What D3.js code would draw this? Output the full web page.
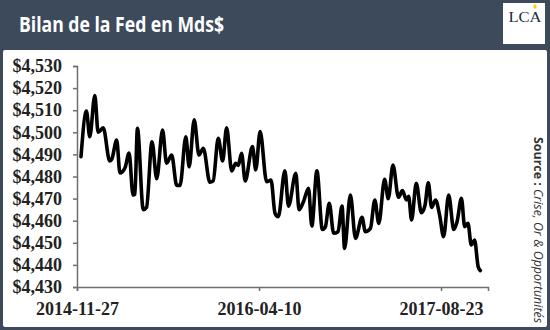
<!DOCTYPE html>
<html><head><meta charset="utf-8">
<script src="https://cdn.jsdelivr.net/npm/d3@7"></script>
<style>html,body{margin:0;padding:0;background:#3d4a5c;}svg{display:block;}</style>
</head><body>
<svg id="c" width="550" height="330"></svg>
<script>
const title = "Bilan de la Fed en Mds$";
const source = ["Source : ", "Crise, Or & Opportunités"];
const dates = ["2014-12-08","2014-12-23","2015-01-01","2015-01-15","2015-01-24","2015-02-07","2015-02-25","2015-03-03","2015-03-16","2015-03-25","2015-04-08","2015-04-19","2015-04-30","2015-05-05","2015-05-12","2015-05-28","2015-06-06","2015-06-21","2015-07-04","2015-07-20","2015-07-31","2015-08-14","2015-08-28","2015-09-06","2015-09-22","2015-10-01","2015-10-15","2015-10-28","2015-11-09","2015-11-27","2015-12-06","2015-12-20","2016-01-01","2016-01-12","2016-01-26","2016-02-06","2016-02-13","2016-02-22","2016-03-03","2016-03-23","2016-04-01","2016-04-13","2016-05-01","2016-05-13","2016-05-24","2016-06-02","2016-06-20","2016-06-30","2016-07-20","2016-07-29","2016-08-10","2016-08-24","2016-09-02","2016-09-16","2016-10-01","2016-10-09","2016-10-20","2016-11-01","2016-11-13","2016-11-24","2016-12-01","2016-12-17","2016-12-31","2017-01-18","2017-01-27","2017-02-10","2017-02-22","2017-03-05","2017-03-21","2017-03-31","2017-04-13","2017-04-28","2017-05-09","2017-05-20","2017-05-26","2017-06-03","2017-06-16","2017-06-30","2017-07-10","2017-07-19","2017-07-28","2017-08-08","2017-08-19","2017-08-30","2017-09-13","2017-09-27","2017-10-06","2017-10-18","2017-10-27","2017-11-05","2017-11-14","2017-11-23","2017-12-03","2017-12-09"];
const values = [4489,4509.6,4498,4516.6,4500,4502,4487,4488,4496.5,4481.6,4484,4490.6,4471.6,4472,4501.8,4465,4466,4495.7,4479,4501,4486,4489.7,4476,4476,4498,4484.4,4505.6,4489.7,4492.8,4477.4,4478,4497.3,4487,4502,4482.5,4486,4485,4490.5,4478,4493.5,4483,4500.3,4477.6,4478.4,4463.3,4461.8,4482.6,4466.6,4481.4,4465,4468.6,4474.7,4457.6,4482.6,4456,4457,4467.9,4454.3,4455,4466.6,4447.5,4471.6,4452,4461.5,4455,4456.5,4469.4,4458.8,4478.7,4470,4485.2,4470.6,4473.6,4469.4,4471,4460.3,4476.9,4463.6,4467,4477.2,4466,4469.4,4462.6,4452.8,4471.6,4456,4459.5,4470.1,4457.3,4458.8,4449,4451.3,4439.2,4437.4];
const xTicks = ["2014-11-27","2016-04-10","2017-08-23"];
const yTicks = [4430,4440,4450,4460,4470,4480,4490,4500,4510,4520,4530];
const xDomain = ["2014-11-27","2017-12-30"];

const parse = d3.timeParse("%Y-%m-%d");
const data = dates.map((d,i)=>({date:parse(d), v:values[i]}));
const svg = d3.select("#c");

// background & panel
svg.append("rect").attr("width",550).attr("height",330).attr("fill","#3d4a5c");
svg.append("rect").attr("x",3).attr("y",50).attr("width",544).attr("height",277).attr("rx",2).attr("fill","#ffffff");

// title
svg.append("text").attr("x",19).attr("y",32).attr("fill","#ffffff")
  .attr("font-family","'Open Sans', sans-serif").attr("font-weight",700).attr("font-size",22)
  .attr("textLength",205).attr("lengthAdjust","spacingAndGlyphs").text(title);

// logo
svg.append("rect").attr("x",503).attr("y",3).attr("width",42).attr("height",41).attr("fill","#ffffff");
svg.append("text").attr("x",525).attr("y",21.5).attr("text-anchor","middle").attr("fill","#1d2a44")
  .attr("font-family","'Liberation Serif', serif").attr("font-size",15)
  .attr("textLength",33).attr("lengthAdjust","spacingAndGlyphs").text("LCA");
svg.append("ellipse").attr("cx",535).attr("cy",6.5).attr("rx",1.6).attr("ry",2.2).attr("fill","#f2d40a");

const x = d3.scaleTime().domain(xDomain.map(parse)).range([77,488]);
const y = d3.scaleLinear().domain([4430,4530]).range([287,66]);

const yAxis = d3.axisLeft(y).tickValues(yTicks).tickSize(4).tickPadding(11)
  .tickFormat(d=>"$"+d3.format(",")(d));
const gy = svg.append("g").attr("transform","translate(77,0)").call(yAxis);
const xAxis = d3.axisBottom(x).tickValues(xTicks.map(parse)).tickSize(4).tickPadding(11)
  .tickFormat(d3.timeFormat("%Y-%m-%d"));
const gx = svg.append("g").attr("transform","translate(0,287)").call(xAxis);

[gx,gy].forEach(g=>{
  g.select(".domain").attr("stroke","#6f6f6f").attr("stroke-width",1.5);
  g.selectAll(".tick line").attr("stroke","#6f6f6f").attr("stroke-width",1.5);
  g.selectAll(".tick text").attr("fill","#222").attr("font-family","'Liberation Serif', serif")
    .attr("font-weight",700).attr("font-size",18);
});

const line = d3.line().x(d=>x(d.date)).y(d=>y(d.v)).curve(d3.curveMonotoneX);
svg.append("path").datum(data).attr("d",line).attr("fill","none")
  .attr("stroke","#000").attr("stroke-width",3.6).attr("stroke-linejoin","round").attr("stroke-linecap","round");

// source
const st = svg.append("text").attr("transform","translate(534,137) rotate(90)")
  .attr("fill","#333").attr("font-family","'Open Sans', sans-serif").attr("font-size",12)
  .attr("textLength",186).attr("lengthAdjust","spacingAndGlyphs");
st.append("tspan").attr("font-weight",700).text(source[0]);
st.append("tspan").attr("font-style","italic").text(source[1]);
</script>
</body></html>
